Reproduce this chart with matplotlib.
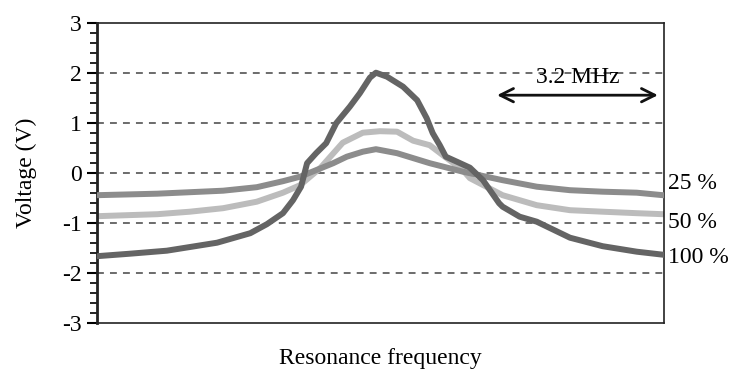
import numpy as np
import matplotlib.pyplot as plt
from matplotlib.ticker import MultipleLocator

plt.rcParams['font.family'] = ['Liberation Serif', 'DejaVu Serif']
plt.rcParams['axes.unicode_minus'] = False

# frecuencia relativa al pico (MHz) y tension (V)
f_100 = [-5.55, -4.89, -4.16, -3.16, -2.50, -2.17, -1.85, -1.65, -1.49, -1.37, -1.19,
         -0.99, -0.79, -0.52, -0.32, -0.12, 0.0, 0.22, 0.54, 0.82, 1.01, 1.13, 1.27, 1.39,
         1.61, 1.87, 2.13, 2.45, 2.52, 2.86, 3.20, 3.86, 4.51, 5.19, 5.71]
v_100 = [-1.67, -1.62, -1.56, -1.40, -1.21, -1.03, -0.81, -0.55, -0.28, 0.19, 0.39,
         0.59, 0.99, 1.32, 1.59, 1.90, 2.0, 1.92, 1.72, 1.45, 1.09, 0.79, 0.55, 0.32,
         0.22, 0.10, -0.15, -0.61, -0.68, -0.88, -0.98, -1.30, -1.47, -1.58, -1.64]

f_25 = [-5.55, -4.35, -3.04, -2.37, -1.85, -1.51, -0.85, -0.58, -0.26, 0.0, 0.42,
        1.07, 1.73, 1.87, 2.52, 3.20, 3.86, 4.51, 5.19, 5.71]
v_25 = [-0.45, -0.42, -0.36, -0.29, -0.17, -0.08, 0.19, 0.32, 0.42, 0.47, 0.39,
        0.19, 0.02, -0.01, -0.15, -0.28, -0.35, -0.38, -0.40, -0.45]

f_50 = [-5.55, -4.35, -3.70, -3.04, -2.37, -1.85, -1.51, -1.11, -0.66, -0.26, 0.08,
        0.42, 0.74, 1.07, 1.41, 1.73, 1.87, 2.52, 3.20, 3.86, 4.51, 5.19, 5.71]
v_50 = [-0.87, -0.83, -0.78, -0.71, -0.58, -0.40, -0.25, 0.09, 0.60, 0.80, 0.83,
        0.82, 0.64, 0.55, 0.29, 0.05, -0.11, -0.45, -0.65, -0.75, -0.78, -0.81, -0.83]

etiquetas = ['25 %', '50 %', '100 %']
pos_etiquetas = [-0.21, -0.99, -1.69]
ancho_mhz = [2.41, 5.61]

fig = plt.figure(figsize=(7.32, 3.69), dpi=100)
ax = fig.add_axes([0.1325, 0.1255, 0.7745, 0.813])

# lineas de rejilla discontinuas
for yv in [-2, -1, 0, 1, 2]:
    ax.axhline(yv, color='#444444', lw=1.1, dashes=(4.5, 4), zorder=1)

ax.plot(f_25, v_25, color='#8c8c8c', lw=4.3, zorder=3, solid_joinstyle='round')
ax.plot(f_50, v_50, color='#bcbcbc', lw=4.3, zorder=2, solid_joinstyle='round')
ax.plot(f_100, v_100, color='#646464', lw=4.3, zorder=4, solid_joinstyle='round')

ax.set_xlim(-5.55, 5.73)
ax.set_ylim(-3, 3)
ax.set_xticks([])
ax.yaxis.set_major_locator(MultipleLocator(1))
ax.yaxis.set_minor_locator(MultipleLocator(0.2))
ax.tick_params(axis='y', which='major', direction='out', length=7, width=1.5, labelsize=17, pad=4)
ax.tick_params(axis='y', which='minor', direction='out', length=5, width=1.2)
for s in ax.spines.values():
    s.set_color('#222222')
    s.set_linewidth(1.2)
ax.spines['left'].set_linewidth(2)

ax.set_ylabel('Voltage (V)', fontsize=17, labelpad=18)
ax.set_xlabel('Resonance frequency', fontsize=17, labelpad=18)

# flecha del ancho 3.2 MHz
ax.annotate('', xy=(ancho_mhz[0], 1.55), xytext=(ancho_mhz[1], 1.55),
            arrowprops=dict(arrowstyle='<->', lw=2, color='#111111',
                            mutation_scale=24, shrinkA=0, shrinkB=0))
ax.text(sum(ancho_mhz) / 2, 1.9, '3.2 MHz', fontsize=17, ha='center', va='center', zorder=5)

for txt, yv in zip(etiquetas, pos_etiquetas):
    ax.text(1.008, yv, txt, transform=ax.get_yaxis_transform(), fontsize=17,
            ha='left', va='center', clip_on=False)

fig.savefig('out.png', dpi=100)
